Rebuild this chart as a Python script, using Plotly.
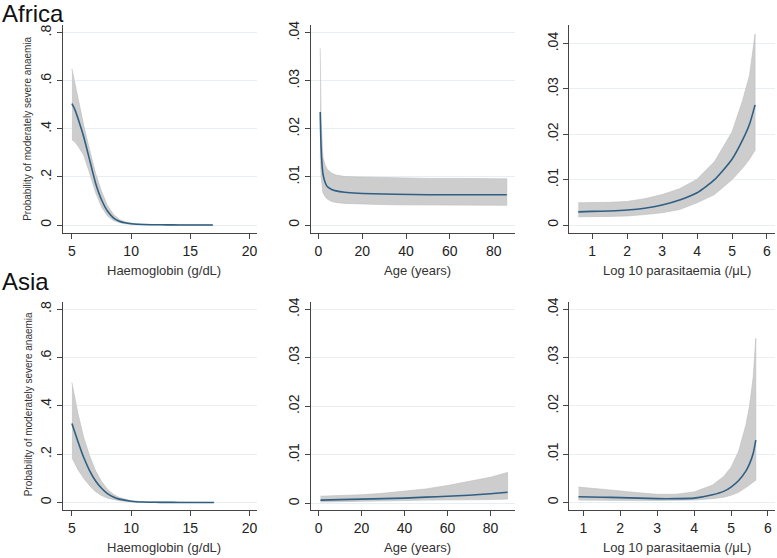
import plotly.graph_objects as go

# ---------------- data ----------------
# Africa - Haemoglobin
af_hb_x = [5, 5.25, 5.5, 6.0, 6.5, 7.0, 7.5, 8.0, 8.5, 9.0, 9.5, 10, 11, 12, 13, 14, 15, 16, 16.9]
af_hb_mean = [0.505, 0.48, 0.445, 0.366, 0.27, 0.174, 0.105, 0.058, 0.030, 0.016, 0.009, 0.0055, 0.002, 0.001, 0.0006, 0.0003, 0.0002, 0.0001, 0.0001]
af_hb_up = [0.65, 0.59, 0.53, 0.414, 0.312, 0.215, 0.14, 0.081, 0.045, 0.023, 0.013, 0.008, 0.003, 0.0015, 0.0008, 0.0005, 0.0003, 0.0002, 0.0002]
af_hb_lo = [0.355, 0.345, 0.33, 0.29, 0.215, 0.135, 0.075, 0.038, 0.019, 0.010, 0.005, 0.003, 0.001, 0.0005, 0.0003, 0.0001, 0.0001, 0.0, 0.0]

# Africa - Age
af_age_x = [0.8, 1.2, 2, 3, 4, 6, 8, 12, 18, 25, 35, 50, 65, 80, 86]
af_age_mean = [0.0235, 0.0160, 0.0108, 0.0089, 0.0080, 0.0074, 0.0071, 0.0068, 0.0066, 0.0065, 0.0064, 0.0063, 0.0063, 0.0063, 0.0063]
af_age_up = [0.0368, 0.0220, 0.0142, 0.0125, 0.0116, 0.0108, 0.0104, 0.0101, 0.0100, 0.0099, 0.0098, 0.0097, 0.0097, 0.0096, 0.0096]
af_age_lo = [0.0150, 0.0100, 0.0068, 0.0059, 0.0054, 0.0049, 0.0047, 0.0045, 0.0044, 0.0043, 0.0042, 0.0042, 0.0041, 0.0041, 0.0041]

# Africa - Log10 parasitaemia
af_par_x = [0.6, 1, 1.5, 2, 2.5, 3, 3.5, 4, 4.5, 5, 5.3, 5.5, 5.66]
af_par_mean = [0.0029, 0.0030, 0.0031, 0.0033, 0.0037, 0.0044, 0.0055, 0.0071, 0.0100, 0.0145, 0.0187, 0.0222, 0.0265]
af_par_up = [0.0049, 0.0049, 0.0050, 0.0052, 0.0058, 0.0067, 0.0080, 0.0101, 0.0140, 0.0205, 0.0274, 0.0330, 0.0421]
af_par_lo = [0.0018, 0.0019, 0.0019, 0.0020, 0.0023, 0.0027, 0.0034, 0.0049, 0.0067, 0.0100, 0.0125, 0.0145, 0.0165]

# Asia - Haemoglobin
as_hb_x = [5, 5.5, 6.0, 6.5, 7.0, 7.5, 8.0, 8.5, 9.0, 10, 11, 12, 13, 14, 15, 16, 17]
as_hb_mean = [0.327, 0.254, 0.186, 0.131, 0.089, 0.059, 0.037, 0.023, 0.014, 0.0055, 0.002, 0.001, 0.0005, 0.0003, 0.0002, 0.0001, 0.0001]
as_hb_up = [0.496, 0.37, 0.268, 0.192, 0.131, 0.087, 0.055, 0.034, 0.021, 0.007, 0.003, 0.0015, 0.0008, 0.0005, 0.0003, 0.0002, 0.0002]
as_hb_lo = [0.186, 0.137, 0.10, 0.069, 0.045, 0.029, 0.018, 0.011, 0.007, 0.003, 0.001, 0.0005, 0.0002, 0.0001, 0.0001, 0.0, 0.0]

# Asia - Age
as_age_x = [0.9, 10, 20, 30, 40, 50, 60, 70, 80, 88]
as_age_mean = [0.0007, 0.0008, 0.0009, 0.0010, 0.0011, 0.0013, 0.0015, 0.0017, 0.0020, 0.0023]
as_age_up = [0.0015, 0.0016, 0.0018, 0.0021, 0.0025, 0.0030, 0.0037, 0.0045, 0.0054, 0.0064]
as_age_lo = [0.0003, 0.0004, 0.0005, 0.0005, 0.0006, 0.0007, 0.0007, 0.0008, 0.0008, 0.0009]

# Asia - Log10 parasitaemia
as_par_x = [0.87, 1.5, 2, 2.5, 3, 3.5, 4, 4.5, 4.8, 5.0, 5.2, 5.4, 5.5, 5.6, 5.67]
as_par_mean = [0.0012, 0.0011, 0.0010, 0.0009, 0.0008, 0.0008, 0.0009, 0.0016, 0.0023, 0.0032, 0.0045, 0.0065, 0.0080, 0.0102, 0.0129]
as_par_up = [0.0032, 0.0028, 0.0024, 0.0020, 0.0017, 0.0017, 0.0022, 0.0036, 0.0054, 0.0073, 0.0105, 0.0160, 0.0200, 0.0260, 0.0340]
as_par_lo = [0.0005, 0.0005, 0.0004, 0.0004, 0.0004, 0.0004, 0.0005, 0.0008, 0.0011, 0.0015, 0.0021, 0.0031, 0.0036, 0.0042, 0.0046]

# tick values / labels
hb_ticks = [5, 10, 15, 20]
age_ticks = [0, 20, 40, 60, 80]
par_ticks = [1, 2, 3, 4, 5, 6]
prob_hb_ticks = [0, 0.2, 0.4, 0.6, 0.8]
prob_hb_labels = ["0", ".2", ".4", ".6", ".8"]
prob_small_ticks = [0, 0.01, 0.02, 0.03, 0.04]
prob_small_labels = ["0", ".01", ".02", ".03", ".04"]

x_titles = ["Haemoglobin (g/dL)", "Age (years)", "Log 10 parasitaemia (/\u03bcL)"]
row_titles = ["Africa", "Asia"]
y_title = "Probability of moderately severe anaemia"

# ---------------- styling ----------------
W, H = 777, 558
FONT = "Liberation Sans, Arial, sans-serif"
LINE_COL = "#2f5f82"
BAND_COL = "#cdcdcd"
BAND_EDGE = "#bcbcbc"
GRID_COL = "#e6eff1"
AXIS_COL = "#454545"

col_px = [(63, 257), (311, 516), (570, 776)]
row_px = [(20, 230), (300, 510)]

panels = [
    # (row, col, x, mean, up, lo, xrange, yrange, xticks, yticks, ylabels)
    (0, 0, af_hb_x, af_hb_mean, af_hb_up, af_hb_lo, [4.24, 20.6], [-0.033, 0.833], hb_ticks, prob_hb_ticks, prob_hb_labels),
    (0, 1, af_age_x, af_age_mean, af_age_up, af_age_lo, [-3.6, 89.9], [-0.00165, 0.04165], age_ticks, prob_small_ticks, prob_small_labels),
    (0, 2, af_par_x, af_par_mean, af_par_up, af_par_lo, [0.343, 6.23], [-0.00175, 0.04415], par_ticks, prob_small_ticks, prob_small_labels),
    (1, 0, as_hb_x, as_hb_mean, as_hb_up, as_hb_lo, [4.24, 20.6], [-0.0328, 0.8287], hb_ticks, prob_hb_ticks, prob_hb_labels),
    (1, 1, as_age_x, as_age_mean, as_age_up, as_age_lo, [-3.7, 91.6], [-0.00143, 0.04143], age_ticks, prob_small_ticks, prob_small_labels),
    (1, 2, as_par_x, as_par_mean, as_par_up, as_par_lo, [0.62, 6.19], [-0.00164, 0.04144], par_ticks, prob_small_ticks, prob_small_labels),
]

fig = go.Figure()
layout = dict(
    width=W, height=H,
    margin=dict(l=0, r=0, t=0, b=0),
    paper_bgcolor="white", plot_bgcolor="white",
    showlegend=False,
    font=dict(family=FONT, color="#222"),
)

annotations = []
for i, (r, c, xs, mean, up, lo, xr, yr, xt, yt, yl) in enumerate(panels):
    n = i + 1
    xa = "x" if n == 1 else f"x{n}"
    ya = "y" if n == 1 else f"y{n}"
    # confidence band as closed polygon
    fig.add_trace(go.Scatter(
        x=list(xs) + list(xs)[::-1], y=list(up) + list(lo)[::-1],
        fill="toself", fillcolor=BAND_COL, mode="lines",
        line=dict(color=BAND_EDGE, width=0.6),
        xaxis=xa, yaxis=ya, hoverinfo="skip"))
    fig.add_trace(go.Scatter(
        x=xs, y=mean, mode="lines",
        line=dict(color=LINE_COL, width=1.6, shape="spline", smoothing=0.6),
        xaxis=xa, yaxis=ya))

    x0, x1 = col_px[c]
    y0, y1 = row_px[r]
    xdom = [x0 / W, x1 / W]
    ydom = [1 - y1 / H, 1 - y0 / H]
    layout["xaxis" if n == 1 else f"xaxis{n}"] = dict(
        domain=xdom, anchor=ya, range=xr,
        tickvals=xt, ticktext=[str(v) for v in xt],
        showgrid=False, zeroline=False,
        showline=True, linecolor=AXIS_COL, linewidth=1,
        ticks="outside", ticklen=5, tickcolor=AXIS_COL,
        ticklabeloverflow="allow",
        tickfont=dict(size=14, color="#222", family=FONT))
    layout["yaxis" if n == 1 else f"yaxis{n}"] = dict(
        domain=ydom, anchor=xa, range=yr,
        tickvals=yt, ticktext=yl, tickangle=-90,
        showgrid=True, gridcolor=GRID_COL, gridwidth=1, zeroline=False,
        showline=True, linecolor=AXIS_COL, linewidth=1,
        ticks="outside", ticklen=5, tickcolor=AXIS_COL,
        tickfont=dict(size=14, color="#222", family=FONT))

    # x-axis title
    annotations.append(dict(
        text=x_titles[c], x=(x0 + x1) / 2 / W + 0.006, y=1 - (268 if r == 0 else 547) / H,
        xref="paper", yref="paper", xanchor="center", yanchor="middle",
        showarrow=False, font=dict(size=13, color="#333", family=FONT)))

# y-axis titles (first column)
for r, cy in enumerate([125, 403]):
    annotations.append(dict(
        text=y_title, x=28 / W, y=1 - cy / H, xref="paper", yref="paper",
        xanchor="center", yanchor="middle", textangle=-90, showarrow=False,
        font=dict(size=10, color="#333", family=FONT)))

# row titles
for r, cy in enumerate([9, 279]):
    annotations.append(dict(
        text=row_titles[r], x=0, y=1 - cy / H, xref="paper", yref="paper",
        xanchor="left", yanchor="middle", showarrow=False,
        font=dict(size=24, color="#111", family=FONT)))

layout["annotations"] = annotations
fig.update_layout(**layout)
fig.write_html("out.html",
               config={"displayModeBar": False},
               post_script="document.body.style.margin='0';document.body.style.overflow='hidden';")
